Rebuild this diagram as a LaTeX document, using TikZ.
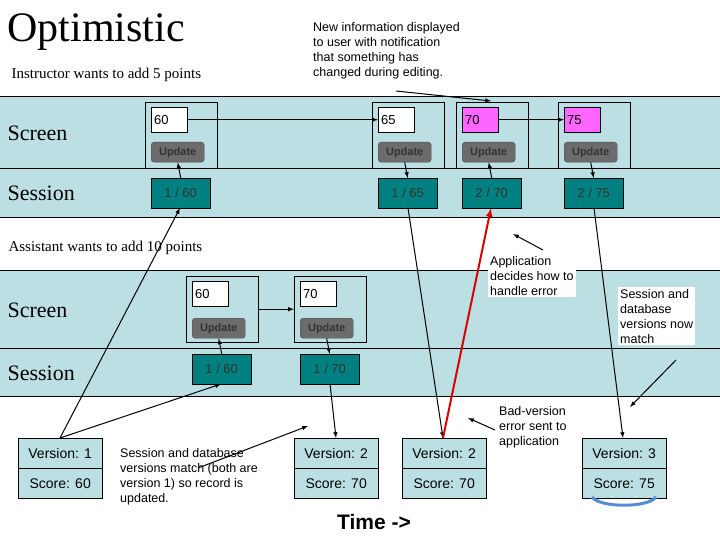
\documentclass[tikz,border=0pt]{standalone}
\usepackage{fontspec}
\setmainfont{Liberation Serif}
\newfontfamily\sansf{Liberation Sans}
\begin{document}
\begin{tikzpicture}[x=1pt,y=-1pt,
 band/.style={draw=black,fill=bandc,line width=0.7pt},
 panel/.style={draw=black,fill=bandc,anchor=north west,inner sep=0,minimum width=72pt,minimum height=66pt},
 val/.style={draw=black,fill=white,anchor=north west,inner sep=0,minimum width=36pt,minimum height=25pt,font=\sansf\fontsize{13}{13}\selectfont,text width=30pt,align=left},
 upd/.style={draw=black!70,fill=gray!85!black,rounded corners=3pt,anchor=north west,inner sep=0,minimum width=53pt,minimum height=20pt,font=\sansf\bfseries\fontsize{11}{11}\selectfont,text=black!80},
 ses/.style={draw=black,fill=tealc,anchor=north west,inner sep=0,minimum width=59pt,minimum height=30pt,font=\sansf\fontsize{13}{13}\selectfont,text=black!80},
 db/.style={draw=black,fill=bandc,anchor=north west,inner sep=0,minimum width=84pt,minimum height=30pt,font=\sansf\fontsize{14}{14}\selectfont},
 lab/.style={anchor=west,font=\fontsize{22}{22}\selectfont},
 note/.style={anchor=north west,font=\sansf\fontsize{12.5}{15}\selectfont,align=left,inner sep=2pt},
 ar/.style={->,>=latex,line width=1pt},
 ]
\definecolor{bandc}{HTML}{BCDFE3}
\definecolor{tealc}{HTML}{008080}
\definecolor{magc}{HTML}{FF66FF}
\useasboundingbox (0,0) rectangle (720,540);
% bands
\draw[band] (-1,96) rectangle (721,217);
\draw (-1,168) -- (721,168);
\draw[band] (-1,270) rectangle (721,396);
\draw (-1,348) -- (721,348);
% titles
\node[anchor=west,font=\fontsize{42}{42}\selectfont] (t) at (4,32) {Optimistic};
\node[anchor=west,font=\fontsize{15}{15}\selectfont] (i) at (8,75) {Instructor wants to add 5 points};
\node[anchor=west,font=\fontsize{15}{15}\selectfont] (a) at (5,248) {Assistant wants to add 10 points};
\node[lab] (s1) at (4,133) {Screen};
\node[lab] (e1) at (4,193) {Session};
\node[lab] (s2) at (4,310) {Screen};
\node[lab] (e2) at (4,373) {Session};
% top panels
\foreach \n/\x/\v/\sa/\sb/\c in {A/145/60/1/60/white,B/372/65/1/65/white,C/456/70/2/70/magc,D/558/75/2/75/magc}{
 \node[panel] (p\n) at (\x,102) {};
 \node[val,fill=\c] (v\n) at (\x+6,107) {\v};
 \node[upd] (u\n) at (\x+6,142) {Update};
 \node[ses] (s\n) at (\x+6,178) {\sa\ / \sb};
}
% bottom panels
\foreach \n/\x/\v/\sa/\sb in {E/186/60/1/60,F/294/70/1/70}{
 \node[panel] (p\n) at (\x,276) {};
 \node[val] (v\n) at (\x+6,281) {\v};
 \node[upd] (u\n) at (\x+6,318) {Update};
 \node[ses] (s\n) at (\x+6,354) {\sa\ / \sb};
}
% database boxes
\foreach \n/\x/\v/\s in {1/18/1/60,2/294/2/70,3/402/2/70,4/582/3/75}{
 \node[db] (dv\n) at (\x,438) {Version: \v};
 \node[db] (ds\n) at (\x,468) {Score: \s};
}
\draw[color=cyan!50!blue!70,line width=3pt] (592,497) .. controls (600,508) and (648,508) .. (656,497);
% arrows
\draw[ar] (vA) -- (vB);
\draw[ar] (vC) -- (vD);
\draw[ar] (sA.north) -- (uA.south);
\draw[ar] (uB.south) -- (sB.north);
\draw[ar] (sC.north) -- (uC.south);
\draw[ar] (uD.south) -- (sD.north);
\draw[ar] (pE) -- (pF);
\draw[ar] (sE.north) -- (uE.south);
\draw[ar] (uF.south) -- (sF.north);
\coordinate (d1t) at (60,438);
\draw[ar] (d1t) -- (180,208);
\draw[ar] (d1t) -- (221,384);
\draw[ar] (330,384) -- (336,438);
\draw[ar] (408,208) -- (443,438);
\draw[->,>=latex,line width=2pt,red!85!black] (443,438) -- (491,208);
\draw[ar] (594,208) -- (623,438);
% notes
\node[note] (n1) at (311,20) {New information displayed\\to user  with notification\\that something has\\changed during editing.};
\draw[ar] (396,91) -- (491,101);
\node[note,fill=white] (n2) at (488,254) {Application\\decides how to\\handle error};
\draw[ar] (543,250) -- (513,234);
\node[note,fill=white] (n3) at (618,287) {Session and\\database\\versions now\\match};
\draw[ar] (676,360) -- (630,407);
\node[note] (n4) at (118,446) {Session and database\\versions match (both are\\version 1) so record is\\updated.};
\draw[ar] (198,468) -- (308,426);
\node[note] (n5) at (497,404) {Bad-version\\error sent to\\application};
\draw[ar] (495,430) -- (468,418);
\node[font=\sansf\bfseries\fontsize{21}{21}\selectfont] (tm) at (374,522) {Time ->};
\end{tikzpicture}
\end{document}
